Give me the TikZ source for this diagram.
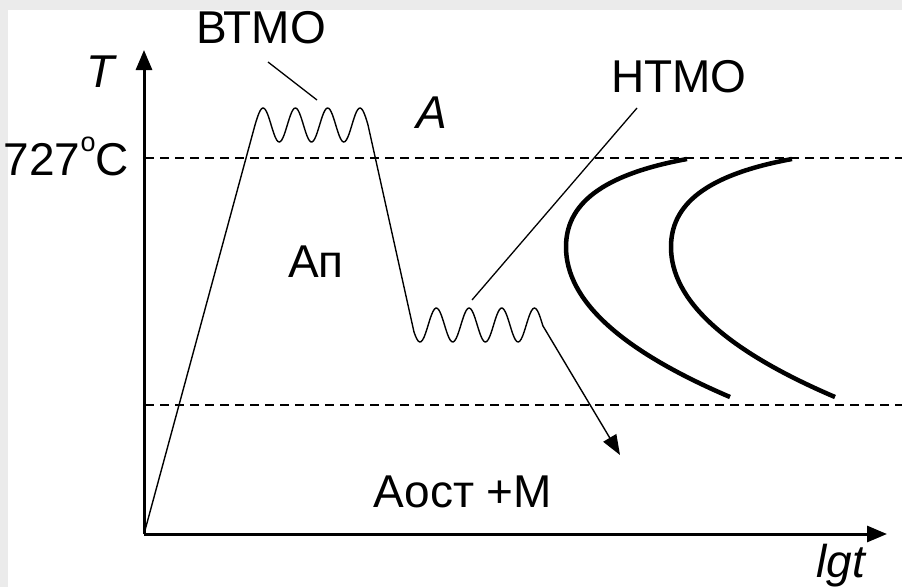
\documentclass[tikz,border=0pt]{standalone}
\usepackage{fontspec}
\setmainfont{Liberation Sans}
\usetikzlibrary{arrows.meta}

\begin{document}
\begin{tikzpicture}[x=1pt, y=-1pt, >={Triangle[length=20pt,width=16pt]},
    lbl/.style={inner sep=0pt, anchor=base, font=\fontsize{46}{50}\selectfont},
    axis/.style={line width=3pt, ->},
    route/.style={line width=1.4pt},
    limit/.style={line width=1.4pt, dash pattern=on 9pt off 6pt},
    ccurve/.style={line width=4.5pt},
    leader/.style={line width=1.3pt}]
    \fill[black!8] (0,0) rectangle (902,587);
    \fill[white] (8,10) rectangle (902,587);
    \useasboundingbox (0,0) rectangle (902,587);

    % axes
    \coordinate (o) at (144,534);
    \coordinate (ytop) at (144,50);
    \coordinate (xend) at (887,534);
    \draw[axis] (o) -- (ytop);
    \draw[axis] (o) -- (xend);
    \node [lbl] (tlab) at (101,87) {\itshape T};
    \node [lbl] (lgt) at (841,577) {\itshape lgt};

    % critical temperatures
    \coordinate (a1l) at (145,158);
    \coordinate (a1r) at (902,158);
    \coordinate (msl) at (145,405);
    \coordinate (msr) at (902,405);
    \draw[limit] (a1l) -- (a1r);
    \draw[limit] (msl) -- (msr);
    \node [lbl, anchor=base east] (tcrit) at (129,175) {727\raisebox{24pt}{\fontsize{27}{27}\selectfont o}C};

    % treatment route
    \coordinate (heat) at (255,125);
    \coordinate (hold) at (368,125);
    \coordinate (cool) at (414,332);
    \coordinate (quench) at (543,326);
    \coordinate (tip) at (620,455);
    \draw[route] (o) -- (heat);
    \draw[route] plot[domain=0:113, samples=90, smooth] ({255+\x},{125-17*sin(\x/32.3*360)});
    \draw[route] (hold) -- (cool);
    \draw[route] plot[domain=-6:123, samples=90, smooth] ({420+\x},{325+17*cos(\x/32.7*360)});
    \draw[route, ->, >={Triangle[length=20pt,width=15pt]}] (quench) -- (tip);

    % C-curves
    \foreach \dx in {0,105} {
        \draw[ccurve] ({687+\dx},159) .. controls ({600+\dx},175) and ({566+\dx},205) .. ({566+\dx},247)
            .. controls ({566+\dx},300) and ({620+\dx},350) .. ({730+\dx},397);
    }

    % labels
    \node [lbl] (vtmo) at (261,43) {ВТМО};
    \node [lbl] (ntmo) at (679,92) {НТМО};
    \node [lbl] (aus) at (432,128) {\itshape A};
    \node [lbl] (ap) at (316,277) {Ап};
    \node [lbl] (aost) at (463,507) {Аост +М};
    \coordinate (vtmo-a) at (268,62);
    \coordinate (vtmo-b) at (317,100);
    \coordinate (ntmo-a) at (637,108);
    \coordinate (ntmo-b) at (472,300);
    \draw[leader] (vtmo-a) -- (vtmo-b);
    \draw[leader] (ntmo-a) -- (ntmo-b);
\end{tikzpicture}
\end{document}
